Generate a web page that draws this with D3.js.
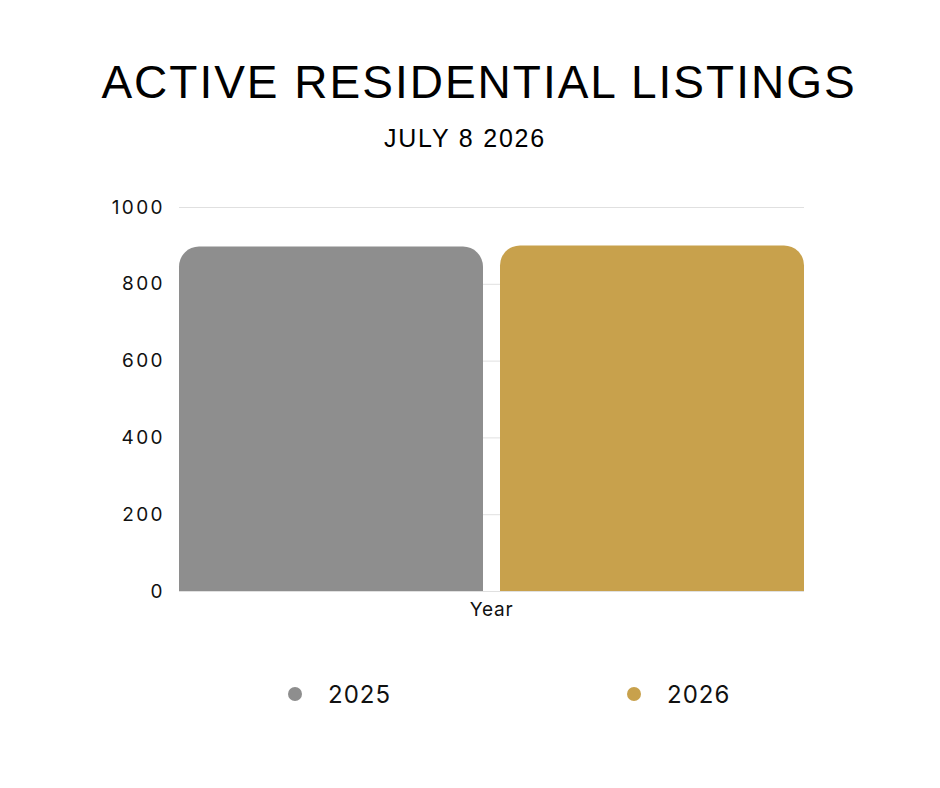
<!DOCTYPE html>
<html>
<head>
<meta charset="utf-8">
<script src="https://cdn.jsdelivr.net/npm/d3@7"></script>
<style>
  body { margin: 0; background: #fff; }
  svg { display: block; }
</style>
</head>
<body>
<svg class="main-canvas" width="940" height="788"></svg>
<script>
"use strict";

const categories = ["Year"];
const seriesNames = ["2025", "2026"];
const seriesValues = [897, 900];
const seriesColors = ["#8e8e8e", "#c8a14c"];
const yTicks = [0, 200, 400, 600, 800, 1000];

let svg = d3.select('.main-canvas');
const margin = { top: 207, right: 136, bottom: 197, left: 179 };
const width = 940, height = 788;

// Title block
svg.append('text')
   .attr('x', 479).attr('y', 98)
   .attr('text-anchor', 'middle')
   .attr('font-family', 'Liberation Sans, Arial, sans-serif')
   .attr('font-size', 46)
   .attr('letter-spacing', 2)
   .attr('fill', '#000')
   .text('ACTIVE RESIDENTIAL LISTINGS');

svg.append('text')
   .attr('x', 465).attr('y', 147)
   .attr('text-anchor', 'middle')
   .attr('font-family', 'Liberation Sans, Arial, sans-serif')
   .attr('font-size', 25)
   .attr('letter-spacing', 1.8)
   .attr('fill', '#000')
   .text('JULY 8 2026');

const x0 = d3.scaleBand()
             .domain(categories)
             .range([margin.left, width - margin.right]);
const x1 = d3.scaleBand()
             .domain(seriesNames)
             .range([0, x0.bandwidth()])
             .paddingInner(0.053);
const y = d3.scaleLinear()
            .domain([0, 1000])
            .range([height - margin.bottom, margin.top]);

// Gridlines (drawn under the bars)
svg.append('g')
   .selectAll('line')
   .data(yTicks)
   .enter()
   .append('line')
   .attr('x1', margin.left)
   .attr('x2', width - margin.right)
   .attr('y1', d => y(d) + 0.5)
   .attr('y2', d => y(d) + 0.5)
   .attr('stroke', '#e0e0e0')
   .attr('stroke-width', 1);

// Y axis labels
const yAxis = d3.axisLeft(y).tickValues(yTicks).tickFormat(d3.format('d')).tickSize(0).tickPadding(14);
svg.append('g')
   .attr('transform', `translate(${margin.left}, 0)`)
   .call(yAxis)
   .call(g => g.select('.domain').remove())
   .selectAll('text')
   .attr('font-family', 'Inter, sans-serif')
   .attr('font-size', 19)
   .attr('letter-spacing', 2.4)
   .attr('fill', '#111');

// Bars with rounded top corners
const r = 20;
function topRounded(x, yTop, w, yBase) {
  const p = d3.path();
  p.moveTo(x, yBase);
  p.lineTo(x, yTop + r);
  p.arcTo(x, yTop, x + r, yTop, r);
  p.lineTo(x + w - r, yTop);
  p.arcTo(x + w, yTop, x + w, yTop + r, r);
  p.lineTo(x + w, yBase);
  p.closePath();
  return p.toString();
}

const barData = seriesNames.map((s, i) => ({ cat: categories[0], name: s, value: seriesValues[i], color: seriesColors[i] }));

svg.append('g')
   .selectAll('path')
   .data(barData)
   .enter()
   .append('path')
   .attr('d', d => topRounded(x0(d.cat) + x1(d.name), y(d.value), x1.bandwidth(), y(0)))
   .attr('fill', d => d.color);

// X axis label
const xAxis = d3.axisBottom(x0).tickSize(0).tickPadding(12);
svg.append('g')
   .attr('transform', `translate(0, ${y(0)})`)
   .call(xAxis)
   .call(g => g.select('.domain').remove())
   .selectAll('text')
   .attr('font-family', 'Inter, sans-serif')
   .attr('font-size', 19)
   .attr('letter-spacing', 0.8)
   .attr('fill', '#111');

// Legend
const legendX = [295, 634];
const legend = svg.append('g')
                  .selectAll('g')
                  .data(barData)
                  .enter()
                  .append('g')
                  .attr('transform', (d, i) => `translate(${legendX[i]}, 694)`);
legend.append('circle')
      .attr('r', 7)
      .attr('fill', d => d.color);
legend.append('text')
      .attr('x', 33)
      .attr('y', 9)
      .attr('font-family', 'Inter, sans-serif')
      .attr('font-size', 24)
      .attr('letter-spacing', 1)
      .attr('fill', '#111')
      .text(d => d.name);
</script>
</body>
</html>
